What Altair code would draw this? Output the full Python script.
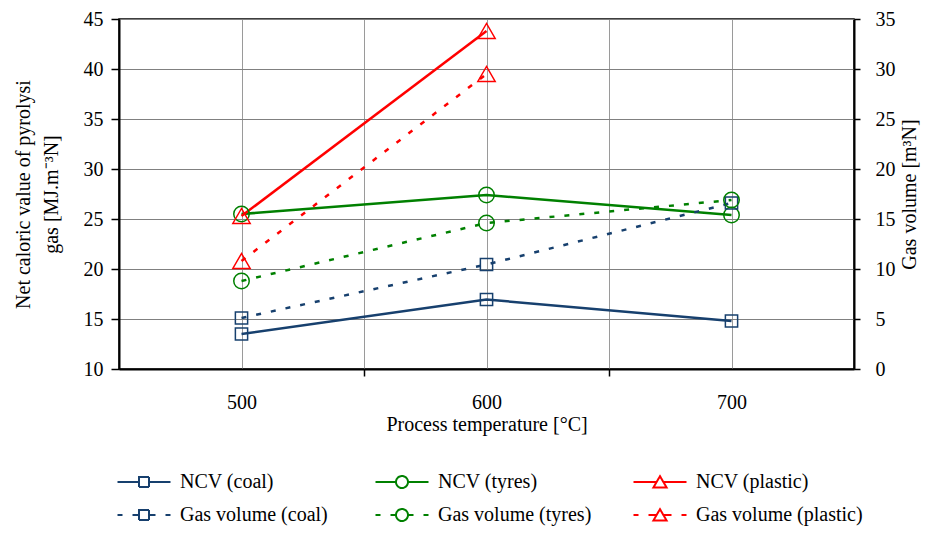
import altair as alt
import pandas as pd

# ---- data ----
temps = [500, 600, 700]
ncv_coal = [13.5, 16.95, 14.8]
ncv_tyres = [25.5, 27.4, 25.4]
ncv_plastic = [25.3, 43.8, None]
gas_coal = [5.1, 10.45, 16.6]
gas_tyres = [8.8, 14.6, 16.9]
gas_plastic = [10.8, 29.5, None]

ncv_names = ["NCV (coal)", "NCV (tyres)", "NCV (plastic)"]
gas_names = ["Gas volume (coal)", "Gas volume (tyres)", "Gas volume (plastic)"]
all_names = ncv_names + gas_names

c_coal, c_tyres, c_plastic = "#17406E", "#008000", "#FF0000"
colors = [c_coal, c_tyres, c_plastic] * 2
marker_shapes = ["square", "circle", "triangle-up"]
marker_sizes = [150, 240, 300]


def long(names, series):
    rows = []
    for name, vals in zip(names, series):
        for t, v in zip(temps, vals):
            if v is not None:
                rows.append({"temp": t, "value": v, "series": name})
    return pd.DataFrame(rows)


ncv_df = long(ncv_names, [ncv_coal, ncv_tyres, ncv_plastic])
gas_df = long(gas_names, [gas_coal, gas_tyres, gas_plastic])

FONT = "Liberation Serif"

# legend symbols: line (solid or dashed) + hollow marker as custom paths
r, k = 0.6, 0.33
sq = "M-0.5,-0.5H0.5V0.5H-0.5Z"
ci = (f"M-{r},0C-{r},-{k} -{k},-{r} 0,-{r}C{k},-{r} {r},-{k} {r},0"
      f"C{r},{k} {k},{r} 0,{r}C-{k},{r} -{r},{k} -{r},0Z")
tr = "M0,-0.58L0.66,0.55H-0.66Z"
marks = [(sq, 0.5), (ci, 0.6), (tr, 0.33)]
legend_paths = []
for m, h in marks:
    legend_paths.append(f"M-2.65,0H-{h}M{h},0H2.65" + m)
for m, h in marks:
    legend_paths.append(f"M-2.65,0H-2.15M-1.15,0H-{h}M{h},0H1.15M2.15,0H2.65" + m)

legend = alt.Legend(
    title=None,
    orient="none",
    legendX=14,
    legendY=452,
    direction="horizontal",
    columns=3,
    gridAlign="all",
    columnPadding=24,
    rowPadding=12,
    symbolSize=400,
    symbolStrokeWidth=2,
    symbolFillColor="transparent",
    symbolOpacity=1,
    symbolDash=[1, 0],
    labelOffset=25,
    labelFont=FONT,
    labelFontSize=20,
    labelColor="black",
    labelLimit=300,
)

color_scale = alt.Scale(domain=all_names, range=colors)
color = alt.Color("series:N", scale=color_scale, legend=legend)

x = alt.X(
    "temp:Q",
    scale=alt.Scale(domain=[450, 750], nice=False, zero=False),
    axis=alt.Axis(
        values=[500, 550, 600, 650, 700],
        labelExpr="datum.value % 100 == 0 ? datum.label : ''",
        tickOpacity={"condition": {"test": "datum.value % 100 == 0", "value": 0}, "value": 1},
        tickSize=7,
        labelPadding=16,
        title="Process temperature [°C]",
        titlePadding=2,
        gridColor="#9a9a9a",
    ),
)

y_left = alt.Y(
    "value:Q",
    scale=alt.Scale(domain=[10, 45], nice=False, zero=False),
    axis=alt.Axis(
        orient="left",
        values=list(range(10, 46, 5)),
        tickSize=8,
        labelPadding=8,
        title=["Net caloric value of pyrolysi", "gas [MJ.m⁻³N]"],
        titlePadding=22,
        titleLineHeight=28,
        gridColor="#808080",
    ),
)

y_right = alt.Y(
    "value:Q",
    scale=alt.Scale(domain=[0, 35], nice=False, zero=False),
    axis=alt.Axis(
        orient="right",
        values=list(range(0, 36, 5)),
        tickSize=6,
        labelPadding=15,
        title="Gas volume [m³N]",
        titleAngle=270,
        titleBaseline="top",
        titlePadding=4,
        grid=False,
    ),
)


def series_layers(df, names, y, dash):
    base = alt.Chart(df)
    line_kw = {"strokeWidth": 2.5}
    if dash:
        line_kw["strokeDash"] = [5, 10]
    layers = [base.mark_line(**line_kw).encode(x=x, y=y, color=color)]
    for name, shp, sz in zip(names, marker_shapes, marker_sizes):
        layers.append(
            base.transform_filter(alt.datum.series == name)
            .mark_point(shape=shp, size=sz, filled=False, strokeWidth=1.5, opacity=1)
            .encode(x=x, y=y, color=color)
        )
    return alt.layer(*layers)


ncv = series_layers(ncv_df, ncv_names, y_left, False)
gas = series_layers(gas_df, gas_names, y_right, True)

# invisible layer that only carries the legend symbols (line + marker)
legend_layer = (
    alt.Chart(pd.concat([ncv_df, gas_df]))
    .mark_point(filled=False, opacity=0)
    .encode(
        color=color,
        shape=alt.Shape("series:N", scale=alt.Scale(domain=all_names, range=legend_paths), legend=legend),
    )
)

chart = (
    alt.layer(ncv, gas, legend_layer)
    .resolve_scale(y="independent")
    .properties(
        width=735,
        height=350,
        autosize=alt.AutoSizeParams(type="none"),
        padding={"left": 111, "top": 11, "right": 67, "bottom": 158},
    )
    .configure(font=FONT, background="white")
    .configure_view(stroke="black", strokeWidth=1.5)
    .configure_legend(labelFont=FONT, labelFontSize=20, labelColor="black", labelLimit=300)
    .configure_axis(
        labelFont=FONT,
        titleFont=FONT,
        labelFontSize=20,
        titleFontSize=20,
        labelColor="black",
        titleColor="black",
        titleFontWeight="normal",
        domainColor="black",
        domainWidth=2,
        tickColor="black",
        tickWidth=1.5,
        gridWidth=1,
    )
)

chart.save("out.html", embed_options={"renderer": "svg", "actions": False})
